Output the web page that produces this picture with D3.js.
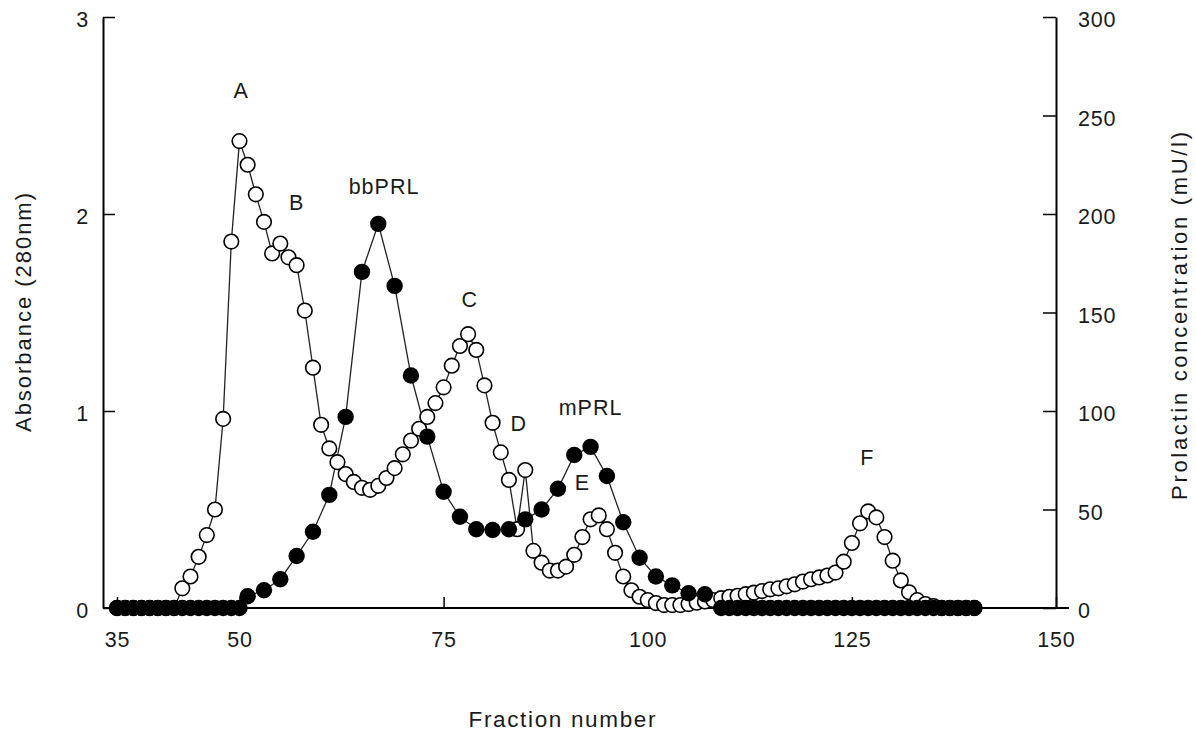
<!DOCTYPE html>
<html>
<head>
<meta charset="utf-8">
<script src="https://cdn.jsdelivr.net/npm/d3@7"></script>
<style>
  body { margin: 0; background: #fff; }
  text { font-family: "Liberation Sans", Arial, Helvetica, sans-serif; fill: #1a1a1a; }
</style>
</head>
<body>
<svg id="chart" width="1196" height="733"></svg>
<script>
// absorbance at 280nm, one value per fraction (open circles)
var absFractions = [35,36,37,38,39,40,41,42,43,44,45,46,47,48,49,50,
  51,52,53,54,55,56,57,58,59,60,61,62,63,64,65,66,67,68,69,70,
  71,72,73,74,75,76,77,78,79,80,81,82,83,84,85,86,87,88,89,90,
  91,92,93,94,95,96,97,98,99,100,101,102,103,104,105,106,107,108,109,110,
  111,112,113,114,115,116,117,118,119,120,121,122,123,124,125,126,127,128,129,130,
  131,132,133,134,135,136,137,138,139,140];
var absValues = [0,0,0,0,0,0,0,0,0.10,0.16,0.26,0.37,0.50,0.96,1.86,2.37,
  2.25,2.10,1.96,1.80,1.85,1.78,1.74,1.51,1.22,0.93,0.81,0.74,0.68,0.64,0.61,0.60,0.62,0.66,0.71,0.78,
  0.85,0.91,0.97,1.04,1.12,1.23,1.33,1.39,1.31,1.13,0.94,0.79,0.65,0.40,0.70,0.29,0.23,0.19,0.19,0.21,
  0.27,0.36,0.45,0.47,0.40,0.28,0.16,0.09,0.057,0.04,0.025,0.015,0.015,0.015,0.02,0.027,0.033,0.04,0.05,0.057,
  0.062,0.07,0.078,0.086,0.095,0.10,0.11,0.12,0.134,0.146,0.155,0.165,0.18,0.235,0.33,0.43,0.49,0.46,0.36,0.24,
  0.14,0.08,0.04,0.02,0.01,0,0,0,0,0];

// prolactin (mU/l), filled circles
var prlFractions = [35,36,37,38,39,40,41,42,43,44,45,46,47,48,49,50,
  51,53,55,57,59,61,63,65,67,69,71,73,75,77,79,81,83,85,87,89,91,93,95,97,99,101,103,105,107,
  109,110,111,112,113,114,115,116,117,118,119,120,121,122,123,124,125,126,127,128,129,130,
  131,132,133,134,135,136,137,138,139,140];
var prlValues = [0,0,0,0,0,0,0,0,0,0,0,0,0,0,0,0,
  6,9,14.6,26.4,38.7,57.4,97,170.6,195,163.5,118,87,59,46.3,40,39.6,40,45,50,60.5,77.7,81.8,67,43.5,25.5,16,11.5,7.5,7,
  0,0,0,0,0,0,0,0,0,0,0,0,0,0,0,0,0,0,0,0,0,0,
  0,0,0,0,0,0,0,0,0,0];

var peakNames = ["A","B","bbPRL","C","D","mPRL","E","F"];
var peakFraction = [50.2,57.0,67.7,78.2,84.2,93.0,92.0,126.9];
var peakAbs = [2.59,2.02,2.10,1.53,0.90,0.98,0.60,0.726];

var xTicks = [35,50,75,100,125,150];
var absTicks = [0,1,2,3];
var prlTicks = [0,50,100,150,200,250,300];

var svg = d3.select("#chart");

var x = d3.scaleLinear().domain([35,150]).range([117,1056]);
var yA = d3.scaleLinear().domain([0,3]).range([608,17]);
var yP = d3.scaleLinear().domain([0,300]).range([608,17]);

var axL = 103, axR = 1056, axB = 608;

// left axis
var gl = svg.append("g").attr("transform","translate(" + axL + ",0)")
  .call(d3.axisLeft(yA).tickValues(absTicks).tickFormat(d3.format("d"))
    .tickSizeInner(-12).tickSizeOuter(0).tickPadding(14));
// right axis
var gr = svg.append("g").attr("transform","translate(" + axR + ",0)")
  .call(d3.axisRight(yP).tickValues(prlTicks)
    .tickSizeInner(-13).tickSizeOuter(0).tickPadding(22));
// bottom axis
var gb = svg.append("g").attr("transform","translate(0," + axB + ")")
  .call(d3.axisBottom(x).tickValues(xTicks)
    .tickSizeInner(-11).tickSizeOuter(0).tickPadding(24));
gb.select(".domain").remove();
svg.append("line").attr("x1",axL).attr("x2",1069).attr("y1",axB).attr("y2",axB)
  .attr("stroke","#000").attr("stroke-width",2);

[gl,gr,gb].forEach(function(g){
  g.selectAll(".domain").attr("stroke","#000").attr("stroke-width",2);
  g.selectAll(".tick line").attr("stroke","#000").attr("stroke-width",1.5);
  g.selectAll("text").attr("font-size",21.5).attr("letter-spacing",0.8)
    .attr("font-family",null).attr("fill","#1a1a1a");
});
gl.selectAll("text").attr("dy","0.45em");
gr.selectAll("text").attr("dy","0.45em");

// axis titles
svg.append("text").attr("x",562).attr("y",727).attr("text-anchor","middle")
  .attr("font-size",22.5).attr("textLength",187).attr("lengthAdjust","spacing")
  .text("Fraction number");
svg.append("text").attr("transform","translate(31,312.5) rotate(-90)")
  .attr("text-anchor","middle").attr("font-size",22)
  .attr("textLength",239).attr("lengthAdjust","spacing")
  .text("Absorbance (280nm)");
svg.append("text").attr("transform","translate(1187,316) rotate(-90)")
  .attr("text-anchor","middle").attr("font-size",22)
  .attr("textLength",368).attr("lengthAdjust","spacing")
  .text("Prolactin concentration (mU/l)");

var absData = absFractions.map(function(f,i){ return {f:f, v:absValues[i]}; });
var prlData = prlFractions.map(function(f,i){ return {f:f, v:prlValues[i]}; });

var lineA = d3.line().x(function(d){ return x(d.f); }).y(function(d){ return yA(d.v); });
var lineP = d3.line().x(function(d){ return x(d.f); }).y(function(d){ return yP(d.v); });

svg.append("path").datum(absData).attr("d",lineA)
  .attr("fill","none").attr("stroke","#222").attr("stroke-width",1.3);
svg.append("path").datum(prlData).attr("d",lineP)
  .attr("fill","none").attr("stroke","#222").attr("stroke-width",1.3);

svg.append("g").selectAll("circle").data(absData).enter().append("circle")
  .attr("cx",function(d){ return x(d.f); })
  .attr("cy",function(d){ return yA(d.v); })
  .attr("r",7.3)
  .attr("fill","#fff").attr("stroke","#000").attr("stroke-width",1.6);

svg.append("g").selectAll("circle").data(prlData).enter().append("circle")
  .attr("cx",function(d){ return x(d.f); })
  .attr("cy",function(d){ return yP(d.v); })
  .attr("r",8.2)
  .attr("fill","#000");

// peak labels
svg.append("g").selectAll("text").data(peakNames).enter().append("text")
  .attr("x",function(d,i){ return x(peakFraction[i]); })
  .attr("y",function(d,i){ return yA(peakAbs[i]); })
  .attr("text-anchor","middle").attr("font-size",21.5).attr("letter-spacing",1)
  .text(function(d){ return d; });
</script>
</body>
</html>
